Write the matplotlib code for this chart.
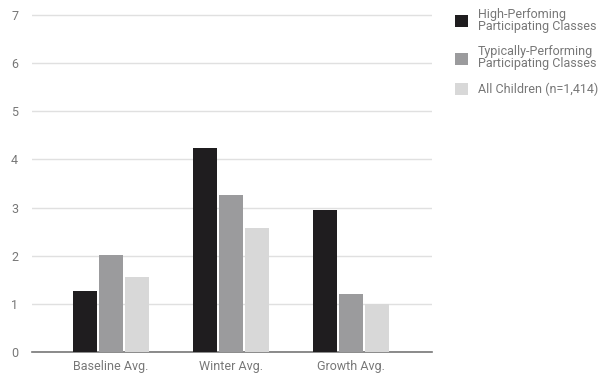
import numpy as np
import matplotlib.pyplot as plt

plt.rcParams['font.family'] = ['Roboto', 'DejaVu Sans']

groups = ['Baseline Avg.', 'Winter Avg.', 'Growth Avg.']
series = ['High-Perfoming\nParticipating Classes',
          'Typically-Performing\nParticipating Classes',
          'All Children (n=1,414)']
high_perf = [1.26, 4.24, 2.95]
typical_perf = [2.02, 3.26, 1.20]
all_children = [1.55, 2.58, 0.99]
colors = ['#1f1d1f', '#9b9b9d', '#d8d8d8']

W, H = 613, 378
fig = plt.figure(figsize=(W / 100, H / 100), dpi=100)
# plot area: y=0 at row 352, y=7 at row 15, x from col 32 to 432
top = 7.15
ax = fig.add_axes([32 / W, 1 - 352 / H, 400 / W, 337 / H * top / 7])

x = np.arange(len(groups))
w = 0.215
handles = []
for i, (vals, c) in enumerate(zip([high_perf, typical_perf, all_children], colors)):
    b = ax.bar(x + (i - 1) * w, vals, width=w - 0.015, color=c, zorder=3)
    handles.append(b)

ax.set_xlim(-0.658, 2.675)
ax.set_ylim(0, top)
ax.set_yticks(range(8))
ax.set_xticks(x)
ax.set_xticklabels(groups)
ax.tick_params(length=0, labelsize=9, colors='#777777')
ax.tick_params(axis='y', pad=10)
ax.tick_params(axis='x', pad=6)
for s in ['top', 'right', 'left']:
    ax.spines[s].set_visible(False)
ax.spines['bottom'].set_color('#777777')
ax.spines['bottom'].set_linewidth(1.2)
ax.grid(axis='y', color='#e0e0e0', linewidth=1, zorder=0)

leg = fig.legend(handles, series, loc='upper left', bbox_to_anchor=(455 / W, 1 - 8 / H),
                 frameon=False, fontsize=9, labelcolor='#777777',
                 handlelength=1.05, handleheight=1.05, handletextpad=0.8,
                 labelspacing=1.0, borderpad=0, borderaxespad=0)
for t in leg.get_texts():
    t.set_linespacing(0.9)

fig.savefig('out.png', dpi=100)
